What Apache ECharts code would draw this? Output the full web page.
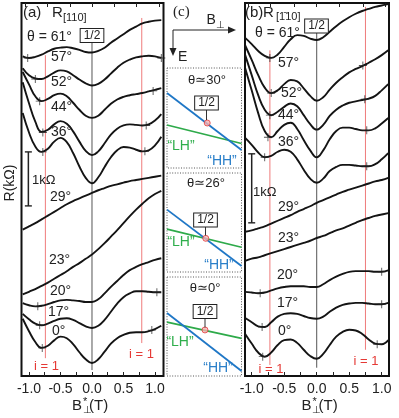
<!DOCTYPE html>
<html><head><meta charset="utf-8">
<script src="https://cdn.jsdelivr.net/npm/echarts@6/dist/echarts.min.js"></script>
<style>html,body{margin:0;padding:0;background:#fff}#c{width:399px;height:418px}</style>
</head><body><div id="c"></div>
<script>
// shared B* grid (T)
const bGrid = [-1.1,-1.0,-0.9,-0.8,-0.7,-0.6,-0.5,-0.4,-0.3,-0.2,-0.1,0,0.1,0.2,0.3,0.4,0.5,0.6,0.7,0.8,0.9,1.0,1.1];
const angleLabels = ['61°','57°','52°','44°','36°','29°','23°','20°','17°','0°'];
const xTickLabels = [-1.0,-0.5,0.0,0.5,1.0];
const xMinorTicks = [-1.0,-0.75,-0.5,-0.25,0,0.25,0.5,0.75,1.0];
const xTopTicks = [-1.06,-0.71,-0.35,0,0.35,0.71,1.06];

// panel (a) R[110], kOhm with offsets
const a61 = [5.92,5.89,5.91,5.95,6.01,6.06,6.08,6.09,6.07,6.04,6.00,5.99,6.02,6.08,6.17,6.25,6.33,6.41,6.47,6.53,6.56,6.58,6.59];
const a57 = [5.70,5.57,5.51,5.50,5.55,5.62,5.66,5.64,5.57,5.49,5.42,5.38,5.41,5.49,5.60,5.71,5.80,5.86,5.90,5.92,5.93,5.92,5.89];
const a52 = [5.63,5.40,5.18,5.09,5.13,5.20,5.23,5.18,5.06,4.93,4.82,4.78,4.82,4.93,5.04,5.12,5.17,5.20,5.22,5.24,5.27,5.30,5.33];
const a44 = [5.44,5.05,4.71,4.52,4.56,4.66,4.72,4.67,4.53,4.34,4.17,4.09,4.16,4.31,4.47,4.58,4.64,4.66,4.65,4.64,4.66,4.73,4.85];
const a36 = [4.87,4.51,4.25,4.15,4.21,4.34,4.41,4.33,4.13,3.88,3.67,3.57,3.68,3.87,4.05,4.18,4.24,4.23,4.19,4.16,4.18,4.27,4.43];
const a29 = [2.71,2.77,2.83,2.90,2.97,3.04,3.11,3.18,3.24,3.29,3.34,3.39,3.44,3.48,3.52,3.55,3.58,3.61,3.63,3.65,3.67,3.69,3.71];
const a23 = [1.51,1.56,1.61,1.67,1.73,1.80,1.87,1.94,2.02,2.09,2.17,2.25,2.35,2.46,2.58,2.70,2.83,2.96,3.08,3.19,3.29,3.37,3.43];
const a20 = [1.35,1.31,1.29,1.30,1.33,1.37,1.40,1.41,1.40,1.39,1.37,1.37,1.42,1.53,1.65,1.76,1.87,1.96,2.02,2.07,2.11,2.15,2.18];
const a17 = [1.15,1.05,0.97,0.94,0.97,1.02,1.06,1.07,1.04,0.98,0.92,0.89,0.93,1.04,1.19,1.34,1.46,1.53,1.57,1.57,1.56,1.55,1.55];
const a0  = [1.06,0.83,0.63,0.52,0.56,0.66,0.73,0.70,0.59,0.44,0.31,0.24,0.31,0.45,0.60,0.70,0.76,0.80,0.81,0.81,0.83,0.87,0.93];
const plusA = [[-1.02,5.89],[-0.90,5.50],[1.10,5.89],[-0.83,5.09],[0.97,5.28],[-0.78,4.51],[0.86,4.64],[-0.78,4.15],[0.84,4.16],[-0.86,1.29],[-0.83,0.94],[1.03,1.55],[-0.79,0.52],[0.95,0.85]];

// panel (b) R[-110]
const b61 = [4.90,4.81,4.71,4.64,4.61,4.66,4.77,4.88,4.94,4.93,4.89,4.87,4.91,4.99,5.07,5.14,5.20,5.25,5.29,5.32,5.35,5.37,5.39];
const b57 = [4.79,4.58,4.36,4.18,4.10,4.14,4.23,4.29,4.27,4.17,4.06,3.99,4.04,4.15,4.25,4.33,4.40,4.45,4.49,4.54,4.59,4.65,4.72];
const b52 = [4.65,4.36,4.07,3.86,3.78,3.83,3.90,3.95,3.91,3.78,3.65,3.57,3.64,3.77,3.86,3.92,3.96,3.98,4.00,4.02,4.06,4.14,4.23];
const b44 = [4.46,4.14,3.81,3.55,3.46,3.55,3.64,3.67,3.58,3.42,3.27,3.17,3.27,3.43,3.55,3.60,3.60,3.58,3.56,3.56,3.59,3.66,3.74];
const b36 = [3.45,3.35,3.24,3.17,3.19,3.25,3.28,3.25,3.14,2.99,2.86,2.80,2.86,2.97,3.03,3.06,3.06,3.05,3.04,3.04,3.07,3.14,3.23];
const b29 = [2.09,2.11,2.14,2.17,2.21,2.25,2.29,2.33,2.38,2.42,2.46,2.51,2.55,2.59,2.63,2.67,2.70,2.73,2.76,2.79,2.82,2.84,2.87];
const b23 = [1.67,1.70,1.72,1.75,1.78,1.81,1.84,1.87,1.90,1.93,1.96,2.00,2.03,2.07,2.11,2.14,2.18,2.22,2.26,2.29,2.32,2.34,2.36];
const b20 = [1.22,1.21,1.20,1.21,1.24,1.27,1.29,1.30,1.30,1.30,1.29,1.29,1.33,1.39,1.44,1.48,1.51,1.52,1.52,1.52,1.51,1.51,1.53];
const b17 = [0.84,0.78,0.72,0.71,0.78,0.86,0.90,0.91,0.90,0.87,0.84,0.83,0.86,0.93,0.99,1.03,1.05,1.06,1.06,1.05,1.04,1.04,1.06];
const b0  = [0.61,0.47,0.34,0.28,0.34,0.45,0.52,0.53,0.48,0.38,0.29,0.25,0.32,0.45,0.57,0.64,0.67,0.66,0.61,0.53,0.47,0.46,0.52];
const plusB = [[-0.72,4.61],[-0.70,4.10],[0.71,4.50],[-0.72,3.78],[0.74,4.01],[-0.75,3.46],[0.77,3.56],[-0.80,3.17],[0.77,3.04],[-0.87,1.20],[1.0,1.51],[-0.84,0.71],[1.0,1.04],[-0.83,0.28],[0.93,0.46]];

// reference lines [B, Rtop, Rbottom]
const halfLineA = [0, 6.19, 0.11];
const iLinesA = [[-0.74, 5.94, 0.33],[0.79, 6.63, 0.61]];
const scaleBarA = [-1.01, 3.15, 4.15];
const halfLineB = [0, 4.99, 0.12];
const iLinesB = [[-0.72, 4.72, 0.16],[0.75, 5.35, 0.38]];
const scaleBarB = [-1.0, 2.22, 3.22];

// panel (c) schematic bands (normalised B, E)
const c1Blue = [[0,0.25],[1,0.82]], c1Green = [[0,0.57],[1,0.755]], c1Dot = [[0.54,0.55]];
const c2Blue = [[0,0.37],[1,0.94]], c2Green = [[0,0.566],[1,0.75]], c2Dot = [[0.52,0.66]];
const c3Blue = [[0,0.364],[1,0.95]], c3Green = [[0,0.455],[1,0.62]], c3Dot = [[0.51,0.535]];

const FONT = '"Liberation Sans", Arial, sans-serif';
const chart = echarts.init(document.getElementById('c'), null, {renderer:'canvas', width:399, height:418});

function curve(xi, yi, arr){
  return {type:'line', xAxisIndex:xi, yAxisIndex:yi, data:bGrid.map((b,i)=>[b,arr[i]]),
    smooth:0.45, showSymbol:false, symbol:'none', lineStyle:{color:'#141414', width:1.9}, z:4, silent:true};
}
function vline(xi, yi, v, color, w, z){
  return {type:'line', xAxisIndex:xi, yAxisIndex:yi, data:[[v[0],v[1]],[v[0],v[2]]], symbol:'none',
    lineStyle:{color:color, width:w}, z:z, silent:true};
}
function bar(xi, yi, v){
  return {type:'line', xAxisIndex:xi, yAxisIndex:yi, data:[[v[0],v[1]],[v[0],v[2]]], symbol:'rect', symbolSize:[7,1.4],
    showSymbol:true, itemStyle:{color:'#222'}, lineStyle:{color:'#222', width:1.5}, z:3, silent:true};
}
const plusPath = 'path://M4.45,0H5.55V4.45H10V5.55H5.55V10H4.45V5.55H0V4.45H4.45Z';
function plus(xi, yi, pts){
  return {type:'scatter', xAxisIndex:xi, yAxisIndex:yi, data:pts, symbol:plusPath, symbolSize:8,
    itemStyle:{color:'#222'}, z:5, silent:true};
}
function bandLine(xi, d, color){
  return {type:'line', xAxisIndex:xi, yAxisIndex:xi-2, data:d, symbol:'none', lineStyle:{color:color,width:1.8}, z:3, silent:true};
}
function dot(xi, d){
  return {type:'scatter', xAxisIndex:xi, yAxisIndex:xi-2, data:d, symbol:'circle', symbolSize:6,
    itemStyle:{color:'#f6b2b2', borderColor:'#e23c3c', borderWidth:1}, z:5, silent:true};
}

function bottomAxis(gi, min, max){
  return {gridIndex:gi, type:'value', min:min, max:max, position:'bottom',
    axisLine:{show:false}, splitLine:{show:false},
    axisTick:{show:true, inside:true, length:4, customValues:xMinorTicks, lineStyle:{color:'#222', width:1}},
    axisLabel:{customValues:xTickLabels, formatter:v=>v.toFixed(1), fontSize:14, color:'#222', margin:6, fontFamily:FONT}};
}
function topAxis(gi, min, max){
  return {gridIndex:gi, type:'value', min:min, max:max, position:'top',
    axisLine:{show:false}, splitLine:{show:false}, axisLabel:{show:false},
    axisTick:{show:true, inside:true, length:4, customValues:xTopTicks, lineStyle:{color:'#222', width:1}}};
}
function hidden(gi, inv){ return {gridIndex:gi, type:'value', min:0, max:1, show:false, inverse:!!inv}; }

function txt(x, y, s, size, color, opt){
  opt = opt || {};
  return {type:'text', x:x, y:y, rotation:opt.rot||0, z:20, silent:true,
    style:Object.assign({text:s, font:size+'px '+(opt.family||FONT), fill:color||'#222',
      align:opt.align||'left', textAlign:opt.align||'left', verticalAlign:'middle', textVerticalAlign:'middle'}, opt.extra||{})};
}
function box12(cx, cy){
  return txt(cx, cy, '1/2', 12, '#222', {align:'center', extra:{backgroundColor:'#fff', borderColor:'#222', borderWidth:1, padding:[1,3,0,3]}});
}
function stem(x, y1, y2){ return {type:'line', shape:{x1:x,y1:y1,x2:x,y2:y2}, style:{stroke:'#333', lineWidth:1}, z:19}; }
function dotted(y, h){ return {type:'rect', shape:{x:167, y:y, width:74.5, height:h}, style:{fill:'none', stroke:'#555', lineWidth:1, lineDash:[1,1.6]}, z:1}; }

const yMaxA = 373/54, yMaxB = 373/69;
const angA = [a61,a57,a52,a44,a36,a29,a23,a20,a17,a0];
const angB = [b61,b57,b52,b44,b36,b29,b23,b20,b17,b0];

const series = [];
series.push(vline(0,0,halfLineA,'#555',1,2));
iLinesA.forEach(l=>series.push(vline(0,0,l,'#ef7b7b',1,2)));
series.push(bar(0,0,scaleBarA));
angA.forEach(a=>series.push(curve(0,0,a)));
series.push(plus(0,0,plusA));
series.push(vline(2,1,halfLineB,'#555',1,2));
iLinesB.forEach(l=>series.push(vline(2,1,l,'#ef7b7b',1,2)));
series.push(bar(2,1,scaleBarB));
angB.forEach(a=>series.push(curve(2,1,a)));
series.push(plus(2,1,plusB));
[[c1Blue,c1Green,c1Dot],[c2Blue,c2Green,c2Dot],[c3Blue,c3Green,c3Dot]].forEach((c,i)=>{
  const ax = 4+i;
  series.push(bandLine(ax,c[1],'#2eaa4a'));
  series.push(bandLine(ax,c[0],'#1f77c6'));
  series.push(dot(ax,c[2]));
});

const blue='#2a7fc9', green='#2fae4c', red='#e53935';
const graphic = [
  dotted(68,100), dotted(173,99), dotted(277,99),
  // panel (a) texts
  txt(23,13,'(a)',15), txt(52,13,'R',15), txt(63,18,'[110]',11),
  txt(27,37,'θ = '+angleLabels[0],14), box12(92,35.5),
  txt(51,57,angleLabels[1],14), txt(51,82,angleLabels[2],14), txt(51,107,angleLabels[3],14), txt(51,132,angleLabels[4],14),
  txt(50,197,angleLabels[5],14), txt(49,260,angleLabels[6],14), txt(50,291,angleLabels[7],14), txt(48,312,angleLabels[8],14), txt(52,331,angleLabels[9],14),
  txt(32,180,'1kΩ',13),
  txt(46.5,366,'i = 1',13,red,{align:'center'}), txt(141.5,354,'i = 1',13,red,{align:'center'}),
  txt(10,183,'R(kΩ)',14,'#222',{align:'center',rot:Math.PI/2}),
  txt(72,406,'B',15), txt(82.5,410,'⊥',10), txt(83,402,'*',11), txt(89,406,'(T)',15),
  // panel (b) texts
  txt(245,13,'(b)',15), txt(263,13,'R',15), txt(276,17,'[1̄10]',11),
  txt(255,33,'θ = '+angleLabels[0],14), box12(316.5,26),
  txt(278,63,angleLabels[1],14), txt(281,93,angleLabels[2],14), txt(278,115,angleLabels[3],14), txt(278,142,angleLabels[4],14),
  txt(278,207,angleLabels[5],14), txt(278,238,angleLabels[6],14), txt(277,275,angleLabels[7],14), txt(277,303,angleLabels[8],14), txt(278,331,angleLabels[9],14),
  txt(253,192,'1kΩ',13),
  txt(271,369,'i = 1',13,red,{align:'center'}), txt(366,361,'i = 1',13,red,{align:'center'}),
  txt(301.5,406,'B',15), txt(312,410,'⊥',10), txt(312.5,402,'*',11), txt(318.5,406,'(T)',15),
  // panel (c)
  txt(173,12,'(c)',15,'#222',{family:'"Liberation Serif", serif'}),
  txt(206.5,20,'B',14), txt(215.5,25,'⊥',10),
  {type:'polyline', shape:{points:[[173,30],[229,30]]}, style:{stroke:'#222', lineWidth:1}, z:10},
  {type:'polygon', shape:{points:[[236,30],[228,26.5],[228,33.5]]}, style:{fill:'#222'}, z:10},
  {type:'polyline', shape:{points:[[173,30],[173,49]]}, style:{stroke:'#222', lineWidth:1}, z:10},
  {type:'polygon', shape:{points:[[173,56],[169.5,48],[176.5,48]]}, style:{fill:'#222'}, z:10},
  txt(178,57,'E',14),
  txt(207,80,'θ≃30°',13,'#222',{align:'center'}),
  box12(206.5,103), stem(206.5,108.5,120),
  txt(181,146,'“LH”',14,green,{align:'center'}), txt(222,161,'“HH”',14,blue,{align:'center'}),
  txt(206,183,'θ≃26°',13,'#222',{align:'center'}),
  box12(205.5,220), stem(205.5,225.5,235.5),
  txt(181,242,'“LH”',14,green,{align:'center'}), txt(219,265,'“HH”',14,blue,{align:'center'}),
  txt(205,288,'θ≃0°',13,'#222',{align:'center'}),
  box12(205,311.5), stem(205,317,327.5),
  txt(180,342,'“LH”',14,green,{align:'center'}), txt(218,368,'“HH”',14,blue,{align:'center'})
];

chart.setOption({
  animation:false,
  backgroundColor:'#fff',
  grid:[
    {left:21.5, top:3, width:142, height:373, show:true, borderColor:'#111', borderWidth:2, backgroundColor:'transparent'},
    {left:245, top:3, width:144, height:373, show:true, borderColor:'#111', borderWidth:2, backgroundColor:'transparent'},
    {left:167, top:68, width:74.5, height:100},
    {left:167, top:173, width:74.5, height:99},
    {left:167, top:277, width:74.5, height:99}
  ],
  xAxis:[
    bottomAxis(0,-1.119,1.135), topAxis(0,-1.119,1.135),
    bottomAxis(1,-1.103,1.112), topAxis(1,-1.103,1.112),
    hidden(2), hidden(3), hidden(4)
  ],
  yAxis:[
    {gridIndex:0, type:'value', min:0, max:yMaxA, show:false},
    {gridIndex:1, type:'value', min:0, max:yMaxB, show:false},
    hidden(2,true), hidden(3,true), hidden(4,true)
  ],
  series:series,
  graphic:graphic
});
</script>
</body></html>
